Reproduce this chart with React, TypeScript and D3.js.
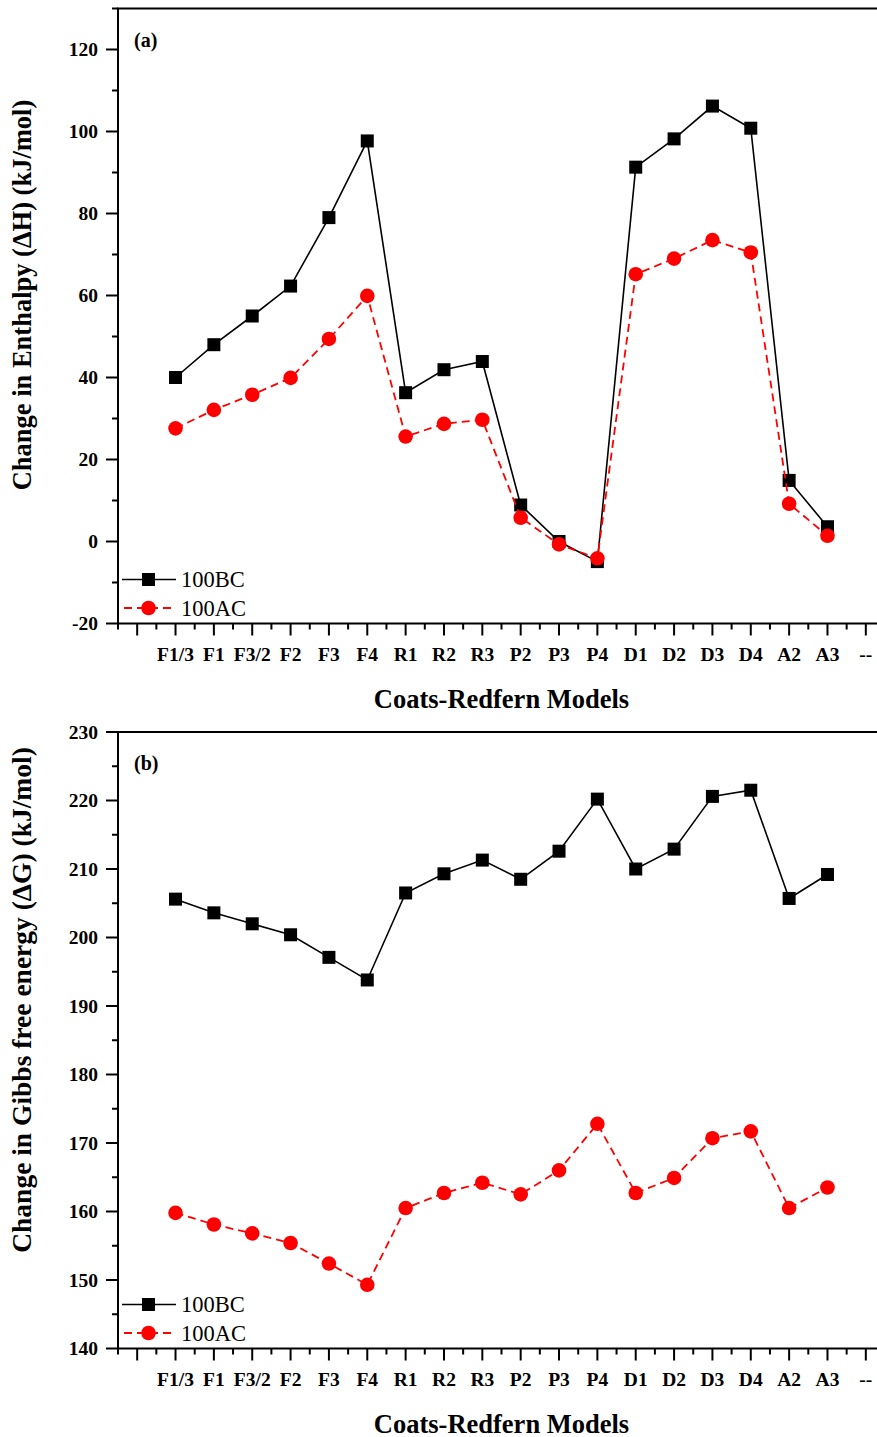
import React from "react";
import * as d3 from "d3";

// Coats-Redfern kinetic models along the category axis (index 0 is an empty slot, last is "--")
const models = ["", "F1/3", "F1", "F3/2", "F2", "F3", "F4", "R1", "R2", "R3", "P2", "P3", "P4", "D1", "D2", "D3", "D4", "A2", "A3", "--"];

// Change in enthalpy ΔH (kJ/mol)
const enthalpyBC = [40.0, 48.0, 55.0, 62.3, 79.0, 97.7, 36.3, 41.9, 43.9, 8.9, 0.0, -4.9, 91.3, 98.2, 106.2, 100.8, 14.9, 3.6];
const enthalpyAC = [27.6, 32.1, 35.8, 39.9, 49.4, 59.9, 25.6, 28.7, 29.7, 5.8, -0.7, -4.1, 65.2, 69.0, 73.5, 70.5, 9.2, 1.4];

// Change in Gibbs free energy ΔG (kJ/mol)
const gibbsBC = [205.6, 203.6, 202.0, 200.4, 197.1, 193.8, 206.5, 209.3, 211.3, 208.5, 212.6, 220.2, 210.0, 212.9, 220.6, 221.5, 205.7, 209.2];
const gibbsAC = [159.8, 158.1, 156.8, 155.4, 152.4, 149.3, 160.5, 162.7, 164.2, 162.5, 166.0, 172.8, 162.7, 164.9, 170.7, 171.7, 160.5, 163.5];

const seriesNames = ["100BC", "100AC"];

// Axis ranges and tick steps
const enthalpyDomain = [-20, 130];
const enthalpyMajor = d3.range(-20, 121, 20);
const enthalpyMinor = d3.range(-10, 131, 20);
const gibbsDomain = [140, 230];
const gibbsMajor = d3.range(140, 231, 10);
const gibbsMinor = d3.range(145, 230, 10);

const FONT = "'Liberation Serif', 'Times New Roman', Times, serif";
const RED = "#ff0000";

type PanelProps = {
  top: number;
  bottom: number;
  domain: number[];
  major: number[];
  minor: number[];
  bc: number[];
  ac: number[];
  tag: string;
  yTitle: string;
  yTitleCenter: number;
  yTitleSize: number;
};

function Panel({ top, bottom, domain, major, minor, bc, ac, tag, yTitle, yTitleCenter, yTitleSize }: PanelProps) {
  const left = 118;
  const right = 885;
  const x = d3.scaleLinear().domain([-0.5, models.length - 0.5]).range([left, right]);
  const y = d3.scaleLinear().domain(domain).range([bottom, top]);

  const line = d3
    .line<number>()
    .x((_, i) => x(i + 1))
    .y((v) => y(v));

  const xMajor = d3.range(0, models.length);
  const xMinor = d3.range(-0.5, models.length, 1);

  const legendY1 = bottom - 44;
  const legendY2 = bottom - 15.5;

  return (
    <g>
      {/* frame */}
      <rect x={left} y={top} width={right - left} height={bottom - top} fill="none" stroke="#000" strokeWidth={2} />

      {/* y ticks */}
      {major.map((v) => (
        <g key={"ym" + v}>
          <line x1={left - 12} x2={left} y1={y(v)} y2={y(v)} stroke="#000" strokeWidth={2} />
          <text
            x={left - 20}
            y={y(v)}
            dy="0.34em"
            textAnchor="end"
            fontFamily={FONT}
            fontWeight="bold"
            fontSize={19.5}
          >
            {v}
          </text>
        </g>
      ))}
      {minor.map((v) => (
        <line key={"yn" + v} x1={left - 6} x2={left} y1={y(v)} y2={y(v)} stroke="#000" strokeWidth={2} />
      ))}

      {/* x ticks */}
      {xMajor.map((i) => (
        <g key={"xm" + i}>
          <line x1={x(i)} x2={x(i)} y1={bottom} y2={bottom + 12} stroke="#000" strokeWidth={2} />
          <text
            x={x(i)}
            y={bottom + 37}
            textAnchor="middle"
            fontFamily={FONT}
            fontWeight="bold"
            fontSize={19.5}
          >
            {models[i]}
          </text>
        </g>
      ))}
      {xMinor.map((i) => (
        <line key={"xn" + i} x1={x(i)} x2={x(i)} y1={bottom} y2={bottom + 6} stroke="#000" strokeWidth={2} />
      ))}

      {/* series */}
      <path d={line(bc) ?? ""} fill="none" stroke="#000" strokeWidth={1.6} />
      {bc.map((v, i) => (
        <rect key={"bc" + i} x={x(i + 1) - 6.5} y={y(v) - 6.5} width={13} height={13} fill="#000" />
      ))}
      <path d={line(ac) ?? ""} fill="none" stroke={RED} strokeWidth={1.8} strokeDasharray="8,5" />
      {ac.map((v, i) => (
        <circle key={"ac" + i} cx={x(i + 1)} cy={y(v)} r={7.3} fill={RED} />
      ))}

      {/* panel tag */}
      <text x={134} y={top + 38} fontFamily={FONT} fontWeight="bold" fontSize={20}>
        {tag}
      </text>

      {/* legend */}
      <line x1={122} x2={176} y1={legendY1} y2={legendY1} stroke="#000" strokeWidth={1.6} />
      <rect x={142} y={legendY1 - 6.5} width={13} height={13} fill="#000" />
      <text x={181} y={legendY1} dy="0.34em" fontFamily={FONT} fontSize={22.5}>
        {seriesNames[0]}
      </text>
      <line x1={122} x2={176} y1={legendY2} y2={legendY2} stroke={RED} strokeWidth={1.8} strokeDasharray="8,5" strokeDashoffset={-2} />
      <circle cx={148.5} cy={legendY2} r={7.3} fill={RED} />
      <text x={181} y={legendY2} dy="0.34em" fontFamily={FONT} fontSize={22.5}>
        {seriesNames[1]}
      </text>

      {/* axis titles */}
      <text
        x={(left + right) / 2}
        y={bottom + 84}
        textAnchor="middle"
        fontFamily={FONT}
        fontWeight="bold"
        fontSize={26.5}
      >
        Coats-Redfern Models
      </text>
      <text
        transform={`translate(31, ${yTitleCenter}) rotate(-90)`}
        textAnchor="middle"
        fontFamily={FONT}
        fontWeight="bold"
        fontSize={yTitleSize}
      >
        {yTitle}
      </text>
    </g>
  );
}

export default function App() {
  return (
    <div style={{ position: "absolute", left: 0, top: 0, width: 877, height: 1437, overflow: "hidden", background: "#fff" }}>
      <svg width={877} height={1437} style={{ display: "block" }}>
        <rect width={877} height={1437} fill="#fff" />
        <Panel
          top={8.5}
          bottom={623.5}
          domain={enthalpyDomain}
          major={enthalpyMajor}
          minor={enthalpyMinor}
          bc={enthalpyBC}
          ac={enthalpyAC}
          tag="(a)"
          yTitle="Change in Enthalpy (ΔH) (kJ/mol)"
          yTitleCenter={295}
          yTitleSize={26.5}
        />
        <Panel
          top={732}
          bottom={1348.5}
          domain={gibbsDomain}
          major={gibbsMajor}
          minor={gibbsMinor}
          bc={gibbsBC}
          ac={gibbsAC}
          tag="(b)"
          yTitle="Change in Gibbs free energy (ΔG) (kJ/mol)"
          yTitleCenter={1000}
          yTitleSize={27.5}
        />
      </svg>
    </div>
  );
}
